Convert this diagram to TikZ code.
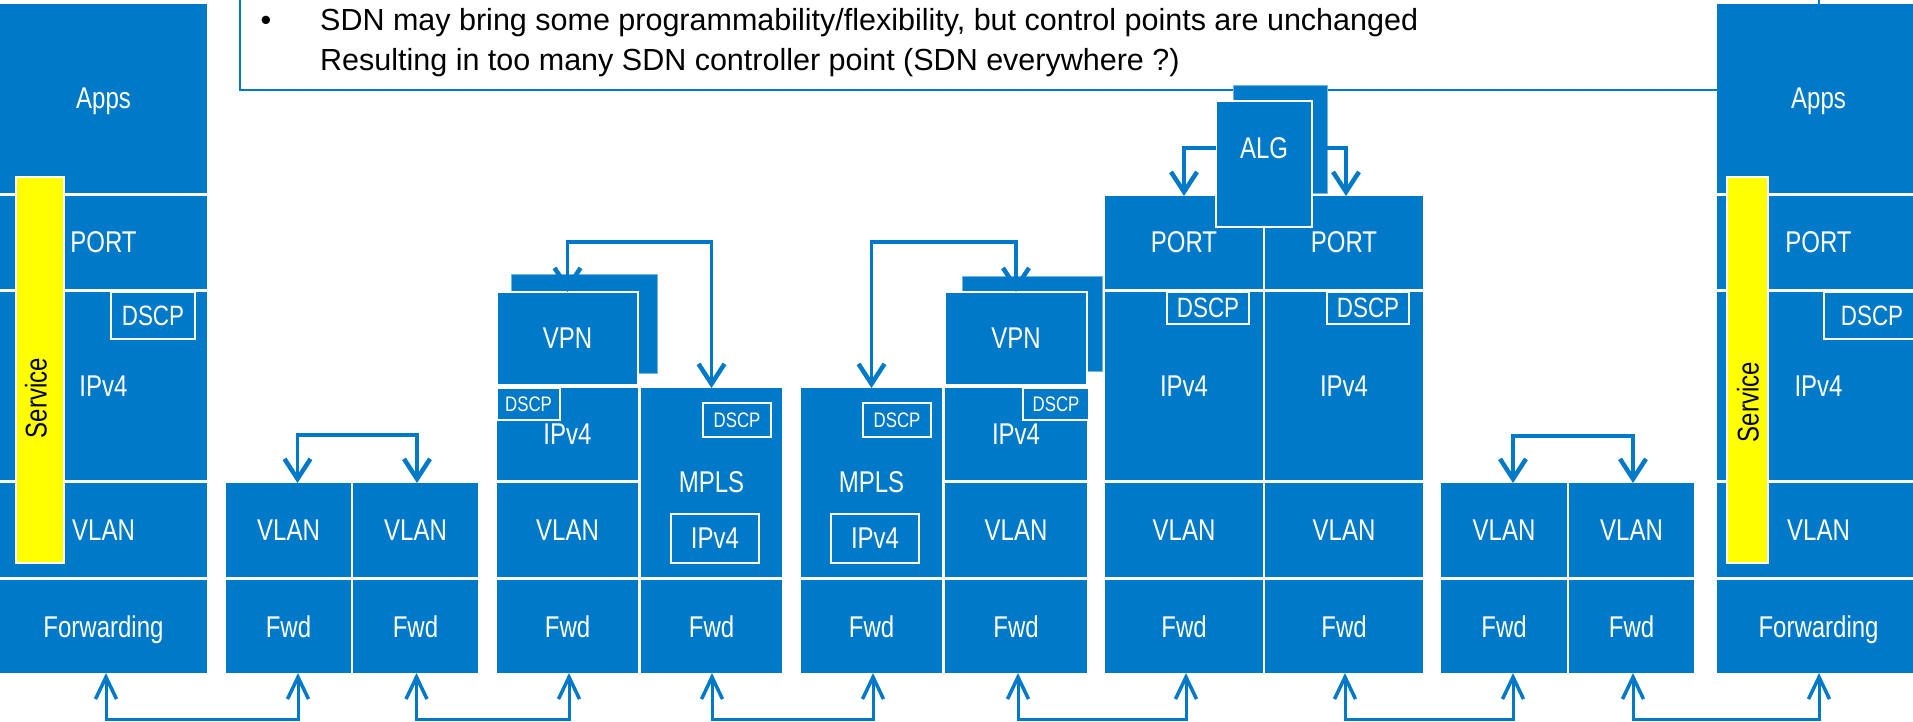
\documentclass[tikz,border=0pt]{standalone}
\usepackage{fontspec}
\setmainfont{Liberation Sans}
\usepackage{graphicx}
\usetikzlibrary{arrows.meta}

\definecolor{sdnblue}{RGB}{0,121,201}
\definecolor{svcyellow}{RGB}{255,255,0}

\newcommand\lblfont{\fontsize{30}{30}\selectfont}
\newcommand\dscpfont{\fontsize{28}{28}\selectfont}
\newcommand\smalldscp{\fontsize{21}{21}\selectfont}
\newcommand\notefont{\fontsize{30.5}{36}\selectfont}
\newcommand\narrow[1]{\scalebox{0.8}[1]{#1}}

% \cell[extra style]{name}{x0}{y0}{x1}{y1}{label}  (pixel units, y downwards)
\newcommand\cell[7][]{%
  \node[cellbox,#1,minimum width={(#5-#3)*1pt},minimum height={(#6-#4)*1pt}]
    (#2) at ({(#3+#5)/2},{(#4+#6)/2}) {\narrow{#7}};}

\tikzset{
  cellbox/.style={fill=sdnblue,draw=none,inner sep=0pt,outer sep=0pt,
                  text=white,font=\lblfont,text depth=0pt},
  frontbox/.style={draw=white,line width=2pt},
  backbox/.style={draw=white!45!sdnblue,line width=0.7pt},
  dscpbox/.style={draw=white,line width=1.8pt},
  innerbox/.style={draw=white,line width=2pt},
  svcbar/.style={fill=svcyellow,draw=white,line width=2pt,inner sep=0pt,outer sep=0pt},
  lbl/.style={text=white,font=\lblfont,inner sep=0pt,text depth=0pt},
  hibarb/.tip={Straight Barb[length=20pt,width=26pt,line width=4.5pt]},
  lobarb/.tip={Straight Barb[length=22pt,width=21pt,line width=3.5pt]},
  conn/.style={draw=sdnblue,line width=3.6pt},
  oneway/.style={conn,-{hibarb}},
  twoway/.style={conn,{hibarb}-{hibarb}},
  lowlink/.style={draw=sdnblue,line width=3pt,{lobarb}-{lobarb}},
}

\begin{document}
\begin{tikzpicture}[x=1pt,y=-1pt]
\useasboundingbox (0,0) rectangle (1913,721);

% ---- note box at the top ----
\node[draw=sdnblue,line width=2pt,fill=white,inner sep=0pt,outer sep=0pt,
      minimum width=1579pt,minimum height=130pt,anchor=south west] (note) at (240,90) {};
\node[anchor=base,font=\notefont,inner sep=0pt] (bullet) at (266,30) {•};
\node[anchor=base west,font=\notefont,inner sep=0pt] (line1) at (320,30)
  {SDN may bring some programmability/flexibility, but control points are unchanged};
\node[anchor=base west,font=\notefont,inner sep=0pt] (line2) at (320,70)
  {Resulting in too many SDN controller point (SDN everywhere ?)};

% ---- left end host ----
\cell{appsL}{0}{4}{207}{193}{Apps}
\cell{portL}{0}{196}{207}{289}{PORT}
\cell{ipL}{0}{292}{207}{480}{IPv4}
\cell[dscpbox,font=\dscpfont]{dscpL}{111}{292}{195}{339}{DSCP}
\cell{vlanL}{0}{483}{207}{577}{VLAN}
\cell{fwdL}{0}{580}{207}{673}{Forwarding}
\node[svcbar,minimum width=48pt,minimum height=386pt] (svcL) at (40,370) {};
\node[rotate=90,font=\lblfont,inner sep=0pt] (svcLtxt) at (36,398) {\narrow{Service}};

% ---- first VLAN switch pair ----
\cell{vlanPa}{226}{483}{351}{577}{VLAN}
\cell{vlanPb}{353}{483}{478}{577}{VLAN}
\cell{fwdPa}{226}{580}{351}{673}{Fwd}
\cell{fwdPb}{353}{580}{478}{673}{Fwd}

% ---- VPN edge (left) ----
\cell[backbox]{vpnCback}{511}{274}{657}{373}{}
\cell[frontbox]{vpnC}{497}{292}{638}{385}{VPN}
\cell{ipC}{497}{388}{638}{480}{IPv4}
\cell[dscpbox,font=\smalldscp]{dscpC}{497}{388}{560}{420}{DSCP}
\cell{vlanC}{497}{483}{638}{577}{VLAN}
\cell{fwdC}{497}{580}{638}{673}{Fwd}

% ---- MPLS core (left) ----
\cell{mplsD}{641}{388}{782}{577}{MPLS}
\cell[dscpbox,font=\smalldscp]{dscpD}{703}{403}{771}{437}{DSCP}
\cell[innerbox]{ipD}{671}{514}{759}{563}{IPv4}
\cell{fwdD}{641}{580}{782}{673}{Fwd}

% ---- MPLS core (right) ----
\cell{mplsE}{801}{388}{942}{577}{MPLS}
\cell[dscpbox,font=\smalldscp]{dscpE}{863}{403}{931}{437}{DSCP}
\cell[innerbox]{ipE}{831}{514}{919}{563}{IPv4}
\cell{fwdE}{801}{580}{942}{673}{Fwd}

% ---- VPN edge (right) ----
\cell[backbox]{vpnFback}{962}{276}{1102}{371}{}
\cell[frontbox]{vpnF}{945}{292}{1087}{385}{VPN}
\cell{ipF}{945}{388}{1087}{480}{IPv4}
\cell[dscpbox,font=\smalldscp]{dscpF}{1023}{388}{1089}{420}{DSCP}
\cell{vlanF}{945}{483}{1087}{577}{VLAN}
\cell{fwdF}{945}{580}{1087}{673}{Fwd}

% ---- ALG pair ----
\cell{portG}{1105}{196}{1263}{289}{PORT}
\cell{ipG}{1105}{292}{1263}{480}{IPv4}
\cell[dscpbox,font=\dscpfont]{dscpG}{1167}{292}{1249}{324}{DSCP}
\cell{vlanG}{1105}{483}{1263}{577}{VLAN}
\cell{fwdG}{1105}{580}{1263}{673}{Fwd}
\cell{portH}{1265}{196}{1423}{289}{PORT}
\cell{ipH}{1265}{292}{1423}{480}{IPv4}
\cell[dscpbox,font=\dscpfont]{dscpH}{1327}{292}{1409}{324}{DSCP}
\cell{vlanH}{1265}{483}{1423}{577}{VLAN}
\cell{fwdH}{1265}{580}{1423}{673}{Fwd}
\cell[backbox]{algback}{1233}{85}{1327}{193}{}
\cell[frontbox]{alg}{1216}{101}{1312}{227}{}
\node[lbl] (algtxt) at (1264,148) {\narrow{ALG}};

% ---- second VLAN switch pair ----
\cell{vlanQa}{1441}{483}{1567}{577}{VLAN}
\cell{vlanQb}{1569}{483}{1694}{577}{VLAN}
\cell{fwdQa}{1441}{580}{1567}{673}{Fwd}
\cell{fwdQb}{1569}{580}{1694}{673}{Fwd}

% ---- right end host ----
\cell{appsR}{1717}{4}{1920}{193}{Apps}
\cell{portR}{1717}{196}{1920}{289}{PORT}
\cell{ipR}{1717}{292}{1920}{480}{IPv4}
\cell[dscpbox,font=\dscpfont]{dscpR}{1824}{292}{1920}{339}{DSCP}
\cell{vlanR}{1717}{483}{1920}{577}{VLAN}
\cell{fwdR}{1717}{580}{1920}{673}{Forwarding}
\node[svcbar,minimum width=41pt,minimum height=386pt] (svcR) at (1747.5,370) {};
\node[rotate=90,font=\lblfont,inner sep=0pt] (svcRtxt) at (1748,402) {\narrow{Service}};

% ---- control-plane links above the boxes ----
\coordinate (k1) at (357,435);
\coordinate (k2) at (640,242);
\coordinate (k3) at (943,242);
\coordinate (k4) at (1573,436);
\draw[twoway] ([xshift=9pt]vlanPa.north) |- (k1) -| ([xshift=1.5pt]vlanPb.north);
\draw[twoway] (vpnC.north) |- (k2) -| (mplsD.north);
\draw[twoway] (mplsE.north) |- (k3) -| (vpnF.north);
\draw[oneway] (alg.west |- algtxt) -| (portG.north);
\draw[oneway] (algback.east |- algtxt) -| ([xshift=2pt]portH.north);
\draw[twoway] ([xshift=9pt]vlanQa.north) |- (k4) -| ([xshift=1.5pt]vlanQb.north);

% ---- data-plane links below the boxes ----
\coordinate (w1) at (200,719);
\coordinate (w2) at (490,719);
\coordinate (w3) at (790,719);
\coordinate (w4) at (1100,719);
\coordinate (w5) at (1430,719);
\coordinate (w6) at (1720,719);
\draw[lowlink] ([xshift=2.5pt]fwdL.south) |- (w1) -| ([xshift=9.5pt]fwdPa.south);
\draw[lowlink] ([xshift=1pt]fwdPb.south) |- (w2) -| ([xshift=1.5pt]fwdC.south);
\draw[lowlink] ([xshift=0.5pt]fwdD.south) |- (w3) -| ([xshift=1.5pt]fwdE.south);
\draw[lowlink] ([xshift=2pt]fwdF.south) |- (w4) -| ([xshift=2pt]fwdG.south);
\draw[lowlink] ([xshift=1pt]fwdH.south) |- (w5) -| ([xshift=9pt]fwdQa.south);
\draw[lowlink] ([xshift=1.5pt]fwdQb.south) |- (w6) -| ([xshift=0.5pt]fwdR.south);
\end{tikzpicture}
\end{document}
